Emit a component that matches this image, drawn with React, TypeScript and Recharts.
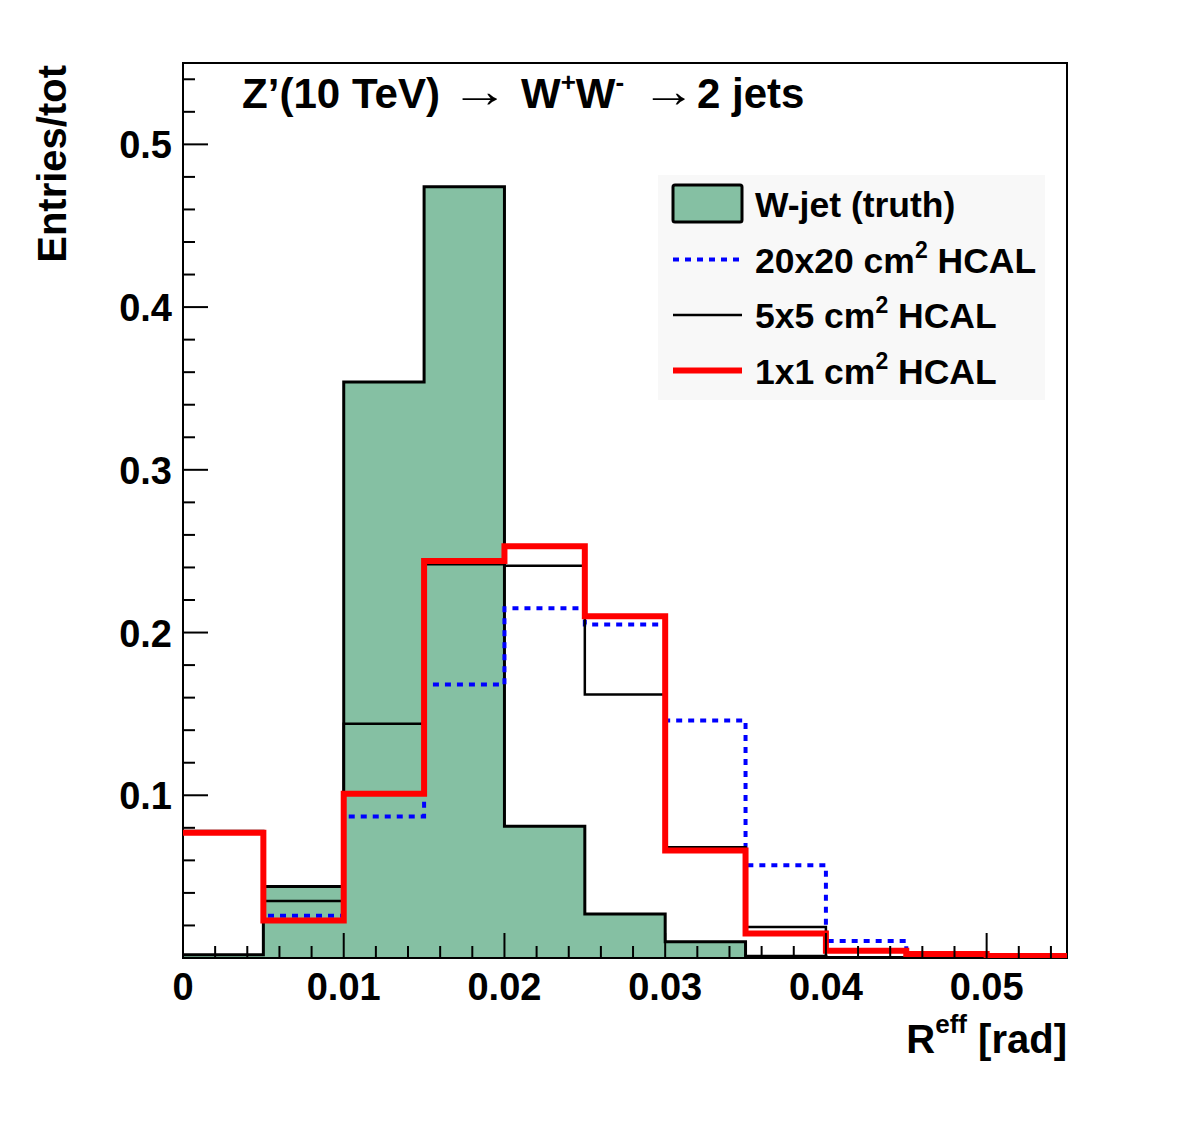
import React from 'react';
import { ComposedChart, Area, Line, XAxis, YAxis, ReferenceArea } from 'recharts';

// histogram bin edges (11 bins of 0.005 rad) and per-bin fractions
const binEdges = [0, 0.005, 0.01, 0.015, 0.02, 0.025, 0.03, 0.035, 0.04, 0.045, 0.05, 0.055];

const truthValues = [0.002, 0.044, 0.354, 0.474, 0.081, 0.027, 0.01, 0.001, 0, 0, 0];
const hcal20Values = [0.077, 0.026, 0.087, 0.168, 0.215, 0.205, 0.146, 0.057, 0.0105, 0.003, 0.001];
const hcal5Values = [0.078, 0.035, 0.144, 0.242, 0.241, 0.162, 0.068, 0.019, 0.0005, 0, 0];
const hcal1Values = [0.077, 0.023, 0.101, 0.244, 0.253, 0.21, 0.066, 0.015, 0.0045, 0.0025, 0.0012];

const xMajorTicks = [0, 0.01, 0.02, 0.03, 0.04, 0.05];
const yMajorTicks = [0.1, 0.2, 0.3, 0.4, 0.5];

const W = 1182;
const H = 1134;
const PLOT_LEFT = 183;
const PLOT_TOP = 63;
const PLOT_RIGHT = 1067;
const PLOT_BOTTOM = 958;
const X_AXIS_H = 100;
const Y_AXIS_W = 100;

const FONT = '"Liberation Sans", Arial, Helvetica, sans-serif';
const FILL_GREEN = '#85c0a3';

// step histograms need the last bin value repeated at the closing edge
const lastBin = truthValues.length - 1;
const histData = binEdges.map((x, i) => {
  const b = Math.min(i, lastBin);
  return {
    x,
    truth: truthValues[b],
    hcal20: hcal20Values[b],
    hcal5: hcal5Values[b],
    hcal1: hcal1Values[b],
  };
});

// minor ticks every 0.002 on x and 0.02 on y, majors every fifth
const xTicks = Array.from({ length: 28 }, (_, i) => i * 0.002);
const yTicks = Array.from({ length: 28 }, (_, i) => i * 0.02);

const isMajor = (v: number, majors: number[]) => majors.some((t) => Math.abs(t - v) < 1e-9);

const XTick = (props: any) => {
  const { x, y, payload } = props;
  const v = payload.value as number;
  const major = v === 0 || isMajor(v, xMajorTicks);
  return (
    <g>
      <line x1={x} y1={y} x2={x} y2={y - (major ? 25 : 12)} stroke="#000" strokeWidth={2} />
      {major && (
        <text x={x} y={y + 42} textAnchor="middle" fontSize={38} fontWeight="bold" fontFamily={FONT} fill="#000">
          {v === 0 ? '0' : v.toFixed(2)}
        </text>
      )}
    </g>
  );
};

const YTick = (props: any) => {
  const { x, y, payload } = props;
  const v = payload.value as number;
  const major = isMajor(v, yMajorTicks) || v === 0;
  return (
    <g>
      <line x1={x} y1={y} x2={x + (major ? 25 : 12)} y2={y} stroke="#000" strokeWidth={2} />
      {major && v > 0 && (
        <text x={x - 11} y={y + 14} textAnchor="end" fontSize={38} fontWeight="bold" fontFamily={FONT} fill="#000">
          {v.toFixed(1)}
        </text>
      )}
    </g>
  );
};

const legendRows = [
  { label: 'W-jet (truth)', kind: 'box' },
  { label: '20x20 cm', sup: '2', rest: ' HCAL', kind: 'line', stroke: '#0000ff', width: 4, dash: '6 6' },
  { label: '5x5 cm', sup: '2', rest: ' HCAL', kind: 'line', stroke: '#000000', width: 2.5, dash: undefined },
  { label: '1x1 cm', sup: '2', rest: ' HCAL', kind: 'line', stroke: '#ff0000', width: 6, dash: undefined },
];

function Overlay() {
  const txt = { fontFamily: FONT, fontWeight: 'bold' as const, fill: '#000' };
  return (
    <svg width={W} height={H} style={{ position: 'absolute', left: 0, top: 0, pointerEvents: 'none' }}>
      {/* title */}
      <text x={242} y={108} fontSize={42} textLength={198} lengthAdjust="spacingAndGlyphs" {...txt}>
        Z’(10 TeV)
      </text>
      <text x={451} y={107} fontSize={46} fontFamily={FONT} fill="#000" textLength={58} lengthAdjust="spacingAndGlyphs">
        →
      </text>
      <text x={521} y={108} fontSize={42} {...txt}>
        W<tspan fontSize={26} dy={-17}>+</tspan>
        <tspan fontSize={42} dy={17}>W</tspan>
        <tspan fontSize={26} dy={-17}>-</tspan>
      </text>
      <text x={642} y={107} fontSize={46} fontFamily={FONT} fill="#000" textLength={54} lengthAdjust="spacingAndGlyphs">
        →
      </text>
      <text x={697} y={108} fontSize={42} {...txt}>
        2 jets
      </text>

      {/* axis titles */}
      <text transform="translate(66,65) rotate(-90)" textAnchor="end" fontSize={40} {...txt}>
        Entries/tot
      </text>
      <text x={1067} y={1053} textAnchor="end" fontSize={40} {...txt}>
        R<tspan fontSize={26} dy={-20}>eff</tspan>
        <tspan fontSize={40} dy={20}> [rad]</tspan>
      </text>

      {/* legend */}
      <rect x={658} y={175} width={387} height={225} fill="#f8f8f8" />
      {legendRows.map((row, i) => {
        const cy = 204 + i * 55.5;
        return (
          <g key={row.label}>
            {row.kind === 'box' ? (
              <rect x={673} y={185} width={69} height={37} fill={FILL_GREEN} stroke="#000" strokeWidth={3} rx={2} />
            ) : (
              <line x1={673} y1={cy} x2={742} y2={cy} stroke={row.stroke} strokeWidth={row.width} strokeDasharray={row.dash} />
            )}
            <text x={755} y={cy + 13} fontSize={35.5} {...txt}>
              {row.label}
              {row.sup && (
                <>
                  <tspan fontSize={23} dy={-15}>{row.sup}</tspan>
                  <tspan fontSize={35.5} dy={15}>{row.rest}</tspan>
                </>
              )}
            </text>
          </g>
        );
      })}
    </svg>
  );
}

export default function App() {
  return (
    <div style={{ position: 'absolute', left: 0, top: 0, width: W, height: H, background: '#fff' }}>
      <ComposedChart
        width={W}
        height={H}
        data={histData}
        margin={{
          top: PLOT_TOP,
          right: W - PLOT_RIGHT,
          bottom: H - PLOT_BOTTOM - X_AXIS_H,
          left: PLOT_LEFT - Y_AXIS_W,
        }}
      >
        <XAxis
          dataKey="x"
          type="number"
          domain={[0, 0.055]}
          ticks={xTicks}
          interval={0}
          height={X_AXIS_H}
          tickSize={0}
          tickMargin={0}
          tickLine={false}
          axisLine={false}
          tick={<XTick />}
          allowDataOverflow
        />
        <YAxis
          type="number"
          domain={[0, 0.55]}
          ticks={yTicks}
          interval={0}
          width={Y_AXIS_W}
          tickSize={0}
          tickMargin={0}
          tickLine={false}
          axisLine={false}
          tick={<YTick />}
          allowDataOverflow
        />
        <Area
          type="stepAfter"
          dataKey="truth"
          fill={FILL_GREEN}
          fillOpacity={1}
          stroke="#000"
          strokeWidth={3}
          dot={false}
          activeDot={false}
          isAnimationActive={false}
        />
        <Line
          type="stepAfter"
          dataKey="hcal20"
          stroke="#0000ff"
          strokeWidth={4}
          strokeDasharray="6 6"
          dot={false}
          activeDot={false}
          isAnimationActive={false}
        />
        <Line
          type="stepAfter"
          dataKey="hcal5"
          stroke="#000"
          strokeWidth={2.5}
          dot={false}
          activeDot={false}
          isAnimationActive={false}
        />
        <Line
          type="stepAfter"
          dataKey="hcal1"
          stroke="#ff0000"
          strokeWidth={6}
          dot={false}
          activeDot={false}
          isAnimationActive={false}
        />
        <ReferenceArea x1={0} x2={0.055} y1={0} y2={0.55} fill="none" stroke="#000" strokeWidth={2} ifOverflow="visible" />
      </ComposedChart>
      <Overlay />
    </div>
  );
}
